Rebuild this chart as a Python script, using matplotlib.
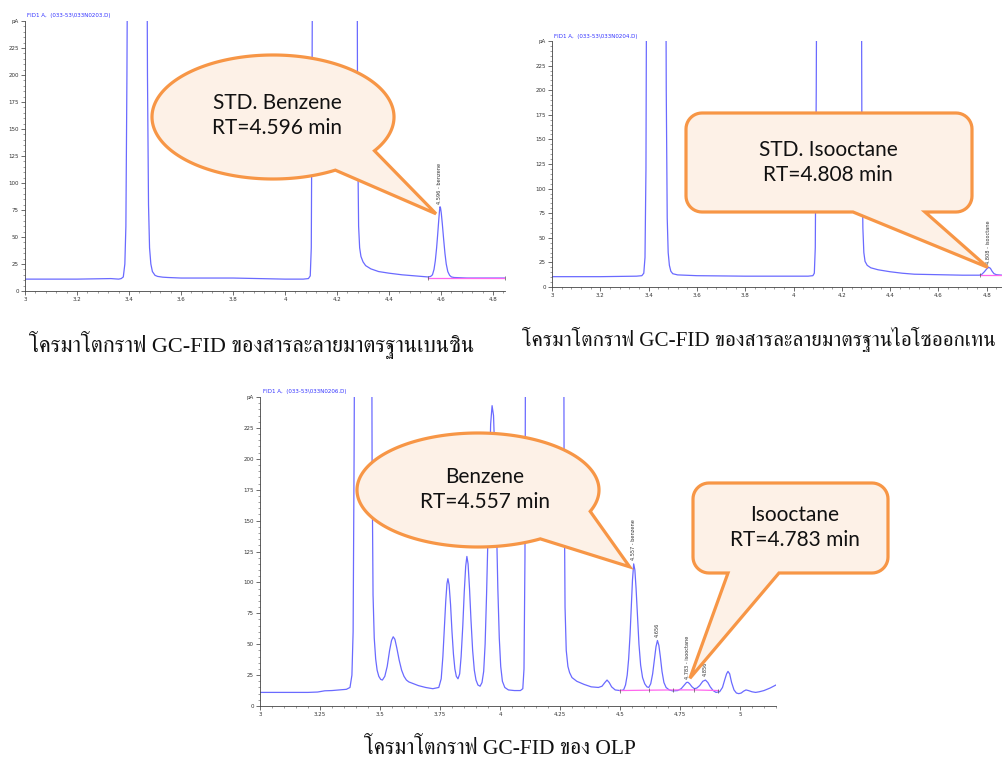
import numpy as np
import matplotlib
matplotlib.use("Agg")
import matplotlib.pyplot as plt
from matplotlib.patches import Polygon
from matplotlib.ticker import FixedLocator, AutoMinorLocator
from matplotlib import font_manager
from matplotlib.ft2font import FT2Font

# ---- GC-FID traces: retention time (min) vs signal (pA) ----
# standard benzene (033-53\033N0203.D)
bz_rt = [3.0, 3.2, 3.33, 3.36, 3.37, 3.378, 3.384, 3.388, 3.392, 3.40, 3.43,
         3.465, 3.471, 3.475, 3.479, 3.484, 3.49, 3.5, 3.51, 3.53, 3.55, 3.6,
         3.7, 3.8, 3.9, 4.0, 4.07, 4.09, 4.097, 4.101, 4.104, 4.11, 4.2, 4.275,
         4.279, 4.283, 4.287, 4.292, 4.3, 4.31, 4.33, 4.36, 4.4, 4.45, 4.5,
         4.55, 4.56, 4.567, 4.573, 4.578, 4.583, 4.587, 4.591, 4.594, 4.596,
         4.598, 4.601, 4.605, 4.61, 4.615, 4.62, 4.626, 4.633, 4.64, 4.65,
         4.7, 4.8, 4.846]
bz_pa = [11, 11, 11.5, 11, 11.5, 13, 25, 60, 200, 600, 900,
         600, 200, 80, 40, 25, 18, 14.5, 13.5, 12.8, 12.5, 12,
         12, 12, 11.5, 11, 11, 11.5, 14, 40, 200, 600, 900, 600,
         150, 60, 40, 32, 27, 23.5, 20.5, 18, 16.5, 15, 14,
         13, 13.5, 15, 20, 28, 40, 52, 65, 74, 78,
         77, 72, 62, 48, 35, 25, 18, 14.5, 13, 12.5,
         12, 12, 12]

# standard isooctane (033-53\033N0204.D)
io_rt = [3.0, 3.2, 3.35, 3.372, 3.38, 3.385, 3.389, 3.395, 3.43, 3.468, 3.473,
         3.477, 3.481, 3.486, 3.492, 3.5, 3.52, 3.55, 3.6, 3.8, 4.0, 4.06,
         4.08, 4.086, 4.09, 4.094, 4.10, 4.2, 4.278, 4.283, 4.287, 4.291,
         4.296, 4.305, 4.32, 4.35, 4.4, 4.45, 4.5, 4.6, 4.7, 4.77, 4.78, 4.79,
         4.8, 4.808, 4.815, 4.822, 4.83, 4.84, 4.863]
io_pa = [10.5, 10.5, 11, 11.5, 14, 30, 120, 600, 900, 600, 200,
         70, 35, 22, 16, 13.5, 12.3, 12, 11.5, 11, 11, 11,
         11.5, 14, 40, 200, 600, 900, 600, 150, 60, 35,
         26, 22, 19.5, 17.5, 15.5, 14, 13, 12.5, 12, 12, 13, 15.5,
         18.5, 20, 19, 16, 13.5, 12.5, 12]

# OLP sample (033-53\033N0206.D)
olp_rt = [3.0, 3.2, 3.24, 3.27, 3.3, 3.33, 3.36, 3.375, 3.383, 3.388, 3.392,
          3.40, 3.43, 3.462, 3.467, 3.471, 3.476, 3.482, 3.488, 3.495, 3.503,
          3.51, 3.52, 3.53, 3.54, 3.548, 3.555, 3.562, 3.57, 3.58, 3.59, 3.6,
          3.61, 3.62, 3.64, 3.66, 3.69, 3.72, 3.745, 3.755, 3.762, 3.768,
          3.774, 3.779, 3.783, 3.788, 3.794, 3.8, 3.806, 3.812, 3.818, 3.825,
          3.832, 3.838, 3.845, 3.851, 3.857, 3.862, 3.867, 3.873, 3.879, 3.886,
          3.893, 3.9, 3.908, 3.917, 3.925, 3.932, 3.938, 3.944, 3.95, 3.956,
          3.961, 3.967, 3.973, 3.979, 3.985, 3.991, 3.997, 4.003, 4.01, 4.02,
          4.035, 4.06, 4.085, 4.095, 4.1, 4.104, 4.11, 4.2, 4.262, 4.267,
          4.271, 4.276, 4.283, 4.29, 4.3, 4.32, 4.35, 4.38, 4.41, 4.425, 4.437,
          4.446, 4.455, 4.465, 4.48, 4.5, 4.515, 4.523, 4.53, 4.536, 4.542,
          4.547, 4.552, 4.557, 4.562, 4.567, 4.573, 4.579, 4.586, 4.594, 4.603,
          4.612, 4.62, 4.628, 4.636, 4.643, 4.65, 4.656, 4.662, 4.668, 4.675,
          4.683, 4.692, 4.705, 4.72, 4.74, 4.755, 4.768, 4.777, 4.783, 4.79,
          4.8, 4.81, 4.82, 4.832, 4.845, 4.856, 4.866, 4.876, 4.888, 4.9,
          4.915, 4.927, 4.936, 4.944, 4.95, 4.957, 4.965, 4.975, 4.985, 4.995,
          5.005, 5.015, 5.025, 5.035, 5.05, 5.065, 5.08, 5.1, 5.125, 5.15]
olp_pa = [11, 11, 11.3, 12.3, 12.5, 13, 13.5, 15, 25, 60, 200,
          600, 900, 600, 200, 90, 55, 38, 29, 24, 21.5,
          21, 24, 32, 45, 53, 56, 54, 47, 37, 29, 24,
          21, 19.5, 18, 16.5, 15, 14, 15, 22, 40, 62,
          85, 99, 103, 98, 82, 60, 42, 30, 24, 22,
          26, 40, 65, 92, 113, 121, 115, 95, 70, 45,
          29, 21, 17, 16, 19, 28, 50, 90, 140, 190,
          228, 243, 235, 200, 150, 95, 55, 32, 20, 15,
          13, 12.5, 12.5, 14, 30, 120, 600, 900, 600, 200,
          80, 45, 32, 27, 23, 20, 17.5, 15.5, 15, 16, 19,
          21, 19, 15.5, 13, 12.5, 13, 17, 25, 38, 58,
          80, 102, 115, 110, 95, 72, 50, 33, 23, 18,
          15.5, 15, 18, 26, 37, 48, 53, 49, 40, 28,
          19, 15, 13, 12.2, 12.5, 14, 17, 19, 19.2, 18,
          15.5, 14, 14.5, 16.5, 20, 21, 19, 15.5, 12.5, 11,
          11.5, 15, 21, 26, 28, 26, 19, 13, 10.5, 10,
          10.5, 12, 13, 12.5, 11.5, 11, 11.5, 12.5, 14.5, 17]

# integration baselines (start/end of each integrated peak)
bz_base_rt = [4.55, 4.846]
bz_base_pa = [12, 12]
io_base_rt = [4.77, 4.863]
io_base_pa = [12, 12]
olp_base_rt = [4.50, 4.62, 4.72, 4.81, 4.91]
olp_base_pa = [12.5, 12.8, 13, 13, 12.5]

# peak annotations: (rt, height, text)
bz_peaks = [(4.596, 78, "4.596 - benzene")]
io_peaks = [(4.808, 20, "4.808 - isooctane")]
olp_peaks = [(4.557, 115, "4.557 - benzene"), (4.656, 53, "4.656"),
             (4.783, 19.2, "4.783 - isooctane"), (4.856, 21, "4.856")]

y_ticks = [0, 25, 50, 75, 100, 125, 150, 175, 200, 225, 250]
y_labels = ["0", "25", "50", "75", "100", "125", "150", "175", "200", "225", "pA"]
x_ticks_std = [3.0, 3.2, 3.4, 3.6, 3.8, 4.0, 4.2, 4.4, 4.6, 4.8]
x_ticks_olp = [3.0, 3.25, 3.5, 3.75, 4.0, 4.25, 4.5, 4.75, 5.0]

captions = ["โครมาโตกราฟ GC-FID ของสารละลายมาตรฐานเบนซิน",
            "โครมาโตกราฟ GC-FID ของสารละลายมาตรฐานไอโซออกเทน",
            "โครมาโตกราฟ GC-FID ของ OLP"]

TRACE = "#6a6aff"
PINK = "#ff66ee"
ORANGE = "#f79646"
BUBBLE = "#fdf1e7"
W, H = 1002, 761


def find_thai_font():
    found = []
    for f in font_manager.fontManager.ttflist:
        try:
            cmap = FT2Font(f.fname).get_charmap()
        except Exception:
            continue
        if 0x0E42 in cmap and 0x0E01 in cmap:
            found.append(f.name)
    serif = [n for n in found if "Serif" in n]
    if serif:
        return serif[0]
    return found[0] if found else None


thai = find_thai_font()
cap_family = ["Liberation Serif"] + ([thai] if thai else []) + ["DejaVu Serif"]

fig = plt.figure(figsize=(W / 100, H / 100), dpi=100)


def chrom(rect, xlim, xticks, rt, pa, base_rt, base_pa, peaks, title):
    ax = fig.add_axes(rect)
    ax.plot(rt, pa, color=TRACE, lw=0.9, solid_joinstyle="round")
    ax.plot(base_rt, base_pa, color=PINK, lw=0.9, marker="|", ms=3,
            mec="#555555", mew=0.5)
    for t, h, s in peaks:
        ax.text(t, h + 3, s, rotation=90, ha="center", va="bottom",
                fontsize=3.6, color="#333333")
    ax.set_xlim(*xlim)
    ax.set_ylim(0, 250)
    for side in ("top", "right"):
        ax.spines[side].set_visible(False)
    for side in ("left", "bottom"):
        ax.spines[side].set_color("#444444")
        ax.spines[side].set_linewidth(0.6)
    ax.yaxis.set_major_locator(FixedLocator(y_ticks))
    ax.set_yticklabels(y_labels)
    ax.xaxis.set_major_locator(FixedLocator(xticks))
    ax.set_xticklabels(["%g" % v for v in xticks])
    ax.xaxis.set_minor_locator(AutoMinorLocator(5))
    ax.yaxis.set_minor_locator(AutoMinorLocator(5))
    ax.tick_params(which="major", length=3, width=0.5, labelsize=4,
                   colors="#333333", pad=1.5)
    ax.tick_params(which="minor", length=1.5, width=0.4, colors="#555555")
    ax.set_facecolor("none")
    ax.text(0.005, 1.01, title, transform=ax.transAxes, fontsize=4,
            color="#3333ff", ha="left", va="bottom")
    return ax


ax1 = chrom([25 / W, 1 - 291 / H, 480 / W, 270 / H], (3, 4.846), x_ticks_std,
            bz_rt, bz_pa, bz_base_rt, bz_base_pa, bz_peaks,
            "FID1 A,  (033-53\\033N0203.D)")
ax2 = chrom([552 / W, 1 - 287 / H, 450 / W, 246 / H], (3, 4.863), x_ticks_std,
            io_rt, io_pa, io_base_rt, io_base_pa, io_peaks,
            "FID1 A,  (033-53\\033N0204.D)")
ax3 = chrom([260 / W, 1 - 706 / H, 516 / W, 309 / H], (3, 5.15), x_ticks_olp,
            olp_rt, olp_pa, olp_base_rt, olp_base_pa, olp_peaks,
            "FID1 A,  (033-53\\033N0206.D)")

# overlay in pixel units (y down) for the speech bubbles and captions
ov = fig.add_axes([0, 0, 1, 1])
ov.set_xlim(0, W)
ov.set_ylim(H, 0)
ov.axis("off")
ov.set_facecolor("none")


def to_px(ax, x, y):
    d = ax.transData.transform((x, y))
    return tuple(ov.transData.inverted().transform(d))


def ellipse_bubble(cx, cy, a, b, th0, th1, tip):
    th = np.radians(np.linspace(th0, th1 + 360, 240))
    verts = list(zip(cx + a * np.cos(th), cy + b * np.sin(th))) + [tip]
    ov.add_patch(Polygon(verts, closed=True, fc=BUBBLE, ec=ORANGE, lw=2.3,
                         joinstyle="miter"))


def box_bubble(x0, y0, x1, y1, r, b0, b1, tip):
    def arc(cx, cy, t0, t1):
        t = np.radians(np.linspace(t0, t1, 12))
        return list(zip(cx + r * np.cos(t), cy + r * np.sin(t)))
    v = arc(x1 - r, y0 + r, 270, 360) + arc(x1 - r, y1 - r, 0, 90)
    v += [(b1, y1), tip, (b0, y1)]
    v += arc(x0 + r, y1 - r, 90, 180) + arc(x0 + r, y0 + r, 180, 270)
    ov.add_patch(Polygon(v, closed=True, fc=BUBBLE, ec=ORANGE, lw=2.3,
                         joinstyle="miter"))


def bubble_text(x, y, name, rt):
    ov.text(x, y, name, ha="center", va="center", fontsize=15,
            family="Lato", color="#111111")
    ov.text(x, y + 25, "RT=%.3f min" % rt, ha="center", va="center",
            fontsize=15, family="Lato", color="#111111")


# STD benzene
t = bz_peaks[0]
px, py = to_px(ax1, t[0], t[1])
ellipse_bubble(273, 117, 121, 62, 59, 33, (px - 4, py + 7))
bubble_text(277, 103, "STD. Benzene", t[0])

# STD isooctane
t = io_peaks[0]
px, py = to_px(ax2, t[0], t[1])
box_bubble(686, 113, 972, 212, 16, 853, 925, (px - 1, py))
bubble_text(828, 150, "STD. Isooctane", t[0])

# OLP benzene
t = olp_peaks[0]
px, py = to_px(ax3, t[0], t[1])
ellipse_bubble(478, 490, 121, 57, 59, 22, (px - 4, py + 3))
bubble_text(485, 477, "Benzene", t[0])

# OLP isooctane
t = olp_peaks[2]
px, py = to_px(ax3, t[0], t[1])
box_bubble(693, 483, 888, 573, 16, 728, 779, (px + 2, py - 4))
bubble_text(795, 515, "Isooctane", t[0])

# captions
ov.text(252, 345, captions[0], ha="center", va="center", fontsize=16,
        family=cap_family, color="#111111")
ov.text(522, 340, captions[1], ha="left", va="center", fontsize=15.2,
        family=cap_family, color="#111111")
ov.text(500, 748, captions[2], ha="center", va="center", fontsize=15.5,
        family=cap_family, color="#111111")

fig.savefig("out.png", dpi=100)
